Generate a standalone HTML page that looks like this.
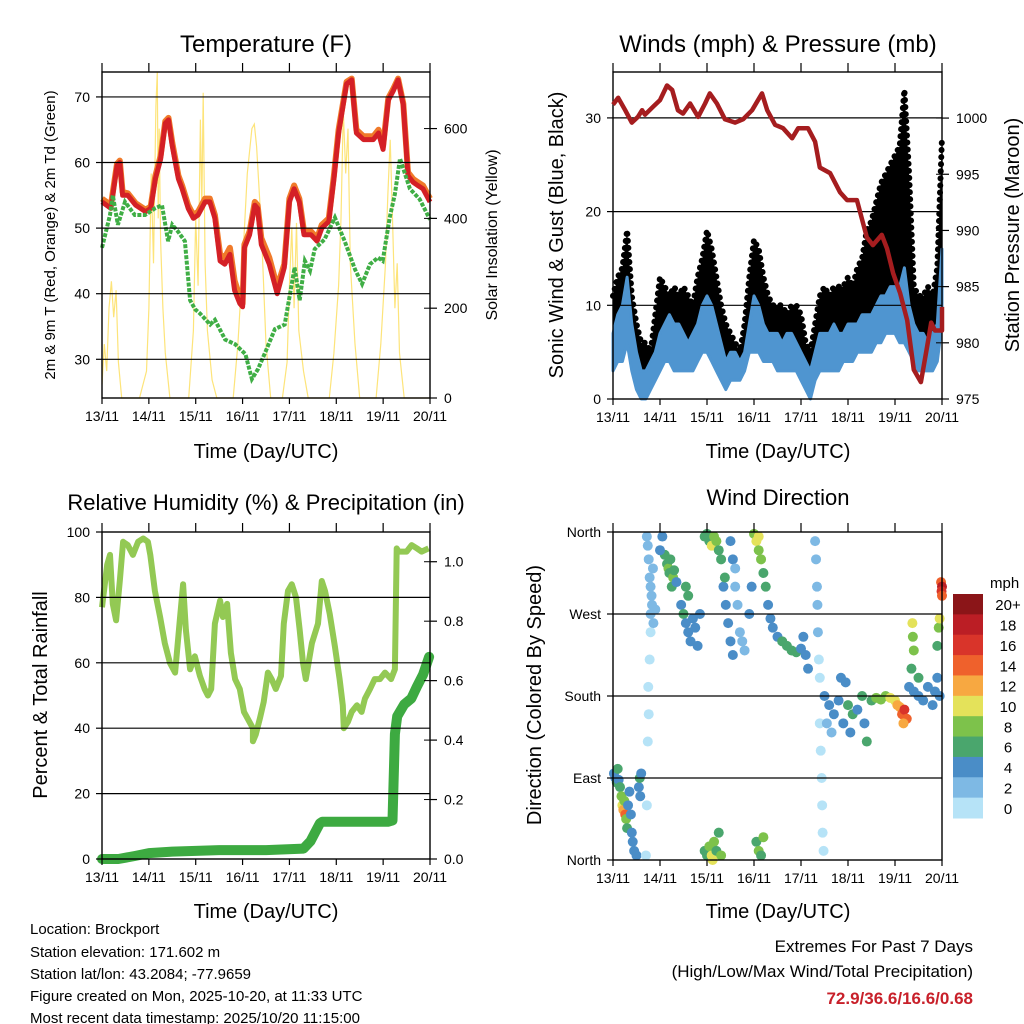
<!DOCTYPE html>
<html><head><meta charset="utf-8"><style>
body{margin:0;background:#fff}
svg{display:block;font-family:"Liberation Sans",Arial,sans-serif}
</style></head><body>
<svg id="svg" width="1024" height="1024" viewBox="0 0 1024 1024" xmlns="http://www.w3.org/2000/svg">
<g id="g"></g>
<g font-size="15" fill="#000">
<text x="30" y="934">Location: Brockport</text>
<text x="30" y="957">Station elevation: 171.602 m</text>
<text x="30" y="979">Station lat/lon: 43.2084; -77.9659</text>
<text x="30" y="1001">Figure created on Mon, 2025-10-20, at 11:33 UTC</text>
<text x="30" y="1023">Most recent data timestamp: 2025/10/20 11:15:00</text>
</g>
<g text-anchor="end">
<text x="973" y="952" font-size="17">Extremes For Past 7 Days</text>
<text x="973" y="977" font-size="17">(High/Low/Max Wind/Total Precipitation)</text>
<text x="973" y="1004" font-size="17" font-weight="bold" fill="#c8202a">72.9/36.6/16.6/0.68</text>
</g>
</svg>
<script>
// ---------- DATA ----------
const dayLabels=["13/11","14/11","15/11","16/11","17/11","18/11","19/11","20/11"];
const tempT=[0,0.19,0.32,0.38,0.44,0.55,0.72,0.93,1.04,1.14,1.25,1.35,1.42,1.5,1.63,1.71,1.84,1.95,2.05,2.2,2.3,2.41,2.52,2.62,2.73,2.83,2.94,3.0,3.04,3.15,3.26,3.32,3.4,3.57,3.74,3.89,4.0,4.1,4.21,4.31,4.46,4.59,4.69,4.84,4.95,5.05,5.22,5.33,5.43,5.58,5.79,5.9,6.0,6.11,6.22,6.32,6.43,6.53,6.64,6.74,6.85,7.0];
const tempRed=[54,53,59.5,60,55,55,53.5,52.5,53,57.5,60.5,66,66.5,62.5,57.5,56,53,51.5,52,54,54,51.5,45,44.5,46,40.5,38.5,38,47,49,53.5,53,47.5,44.5,40,44,54,56,54,49,49,48,50,51,57.5,64.5,72,72.6,64.5,63.5,63.5,64.5,62,69.5,71,72.6,68.8,58,57,56.5,56,54];
const tempOrange=[54.5,53.5,59.8,60.3,55.5,55.3,53.8,52.8,53.3,58,61,66.3,66.8,63,58,56.5,53.5,52,52.5,54.5,54.5,52,46,45.5,47,42,39.5,38.5,47.5,49.5,54,53.5,48.5,45.5,41,44.5,54.5,56.5,54.5,49.5,49.5,48.5,50.5,51.5,58,65,72.3,72.8,65,64,64,65,62.5,69.8,71.3,72.8,69,58.5,57.5,57,56.5,54.5];
const dewT=[0,0.17,0.23,0.34,0.49,0.70,0.92,1.13,1.28,1.41,1.50,1.62,1.77,1.88,1.99,2.09,2.31,2.41,2.63,2.84,3.06,3.20,3.33,3.48,3.69,3.90,4.11,4.22,4.33,4.44,4.54,4.75,4.97,5.18,5.40,5.55,5.72,5.89,5.99,6.14,6.25,6.36,6.57,6.78,7.0];
const dewVal=[47,52,55,50.5,54,52,52,53,53.5,48,50.5,49.5,48,39,37.6,37,35.3,36,33,32.3,30.8,27,28.5,31,34.6,35.3,44,39,45,43.5,46.8,48.3,51.6,48,43.7,41.5,44.5,45.5,45,51.6,55.2,60.6,56,54.4,51.3];
const solarT=[0,0.05,0.1,0.15,0.2,0.25,0.3,0.35,0.42,0.8,0.95,1.0,1.05,1.1,1.15,1.18,1.2,1.22,1.25,1.3,1.35,1.45,1.85,1.95,2.0,2.05,2.1,2.13,2.16,2.2,2.25,2.35,2.45,2.8,2.9,3.0,3.1,3.2,3.25,3.3,3.4,3.5,3.6,3.85,3.95,4.0,4.05,4.1,4.15,4.2,4.3,4.4,4.85,4.95,5.05,5.1,5.15,5.2,5.25,5.3,5.4,5.5,5.85,5.95,6.05,6.1,6.15,6.2,6.25,6.3,6.35,6.45,7.0];
const solarVal=[30,120,60,200,260,180,240,80,0,0,60,200,500,300,650,726,400,600,350,200,100,0,0,150,400,250,620,420,680,300,150,40,0,0,120,300,500,600,610,560,380,120,0,0,80,250,380,200,390,150,60,0,0,100,250,400,640,500,600,300,120,0,0,120,300,450,575,400,200,300,100,0,0];
const presT=[0,0.11,0.26,0.40,0.53,0.62,0.68,0.85,1.0,1.15,1.26,1.38,1.49,1.64,1.81,1.96,2.06,2.21,2.38,2.60,2.77,2.96,3.17,3.28,3.45,3.62,3.81,3.94,4.15,4.30,4.40,4.62,4.83,4.98,5.19,5.40,5.53,5.72,5.83,5.96,6.11,6.26,6.40,6.55,6.68,6.77,6.85,7.0,7.0];
const presVal=[1001.2,1001.8,1000.7,999.6,1000.1,1000.7,1000.3,1001.0,1001.6,1002.9,1002.5,1000.7,1000.4,1001.3,1000.1,1001.3,1002.2,1001.3,999.9,999.6,999.9,1000.7,1002.2,1000.7,999.4,999.1,998.2,999.1,999.1,997.9,995.6,995.1,993.4,992.7,992.7,989.4,988.7,989.6,988.4,986.2,984.4,982.0,977.6,976.5,979.6,981.8,981.1,981.1,983.2];
const windT=[0,0.1,0.2,0.3,0.4,0.5,0.6,0.7,0.8,0.9,1.0,1.1,1.2,1.3,1.4,1.5,1.6,1.7,1.8,1.9,2.0,2.1,2.2,2.3,2.4,2.5,2.6,2.7,2.8,2.9,3.0,3.1,3.2,3.3,3.4,3.5,3.6,3.7,3.8,3.9,4.0,4.1,4.2,4.3,4.4,4.5,4.6,4.7,4.8,4.9,5.0,5.1,5.2,5.3,5.4,5.5,5.6,5.7,5.8,5.9,6.0,6.1,6.2,6.3,6.4,6.5,6.6,6.7,6.8,6.9,7.0];
const windHi=[7,9,10,13,8,5,3,3,4,5,7,8,9,8,8,7,6,7,8,10,11,10,8,6,4,5,5,4,5,8,11,10,8,7,7,7,6,7,7,6,5,4,3,5,7,7,7,8,7,7,8,8,8,9,9,9,10,11,11,12,12,12,14,10,8,7,7,6,7,8,16];
const windLo=[3,4,4,6,3,1,0,0,1,2,3,4,4,3,3,3,3,3,4,5,5,4,3,2,1,2,2,2,3,5,5,5,4,4,4,3,3,3,3,3,2,1,0,2,3,3,3,3,3,4,4,4,5,5,5,5,6,6,7,7,7,6,6,5,4,3,3,3,3,4,8];
const gustHi=[11,13,14,18,11,8,6,6,5,9,13,12,11,12,11,12,11,10,13,15,18,16,13,10,8,7,6,5,8,13,17,16,13,11,10,10,10,9,10,10,9,6,5,8,11,12,11,12,12,12,13,12,14,15,18,19,21,23,24,25,26,27,33,24,12,11,11,12,11,14,28];
const rhT=[0,0.06,0.11,0.17,0.23,0.30,0.38,0.45,0.55,0.66,0.77,0.88,0.98,1.03,1.13,1.24,1.34,1.45,1.56,1.66,1.73,1.79,1.88,1.98,2.09,2.19,2.26,2.33,2.41,2.52,2.58,2.67,2.75,2.84,2.94,3.03,3.22,3.22,3.28,3.37,3.45,3.54,3.62,3.71,3.82,3.88,3.97,4.05,4.14,4.22,4.29,4.35,4.48,4.61,4.69,4.76,4.86,4.97,5.07,5.14,5.16,5.25,5.33,5.44,5.54,5.61,5.72,5.82,5.93,6.04,6.17,6.25,6.29,6.33,6.40,6.50,6.61,6.72,6.82,6.97];
const rhVal=[77,84,90,93,78,73,85,97,96,93,97,98,97,93,82,74,66,60,57,73,84,70,58,62,56,52,50,52,72,79,74,78,63,55,52,45,40,36,38,43,48,57,55,52,56,72,82,84,80,70,60,55,66,72,85,82,75,65,55,47,40,42,45,47,45,49,52,55,55,57,55,58,95,94,94,94,96,95,94,95];
const rainT=[0,0.35,0.7,1.0,1.5,2.5,3.5,4.3,4.45,4.55,4.65,4.7,6.1,6.2,6.22,6.25,6.3,6.45,6.6,6.72,6.85,6.98];
const rainVal=[0,0,0.01,0.02,0.025,0.03,0.03,0.035,0.06,0.09,0.12,0.125,0.125,0.13,0.25,0.42,0.48,0.52,0.54,0.58,0.62,0.68];
const dirT=[0.02,0.05,0.08,0.1,0.12,0.15,0.18,0.2,0.22,0.24,0.26,0.28,0.3,0.32,0.35,0.38,0.4,0.42,0.45,0.5,0.55,0.57,0.6,0.58,
0.7,0.72,0.74,0.76,0.75,0.78,0.8,0.8,0.82,0.78,0.76,0.74,0.72,0.8,0.85,0.83,0.86,0.9,
1.1,1.15,1.18,1.2,1.22,1.25,1.28,1.3,1.35,1.0,1.05,
1.45,1.5,1.55,1.6,1.65,1.7,1.75,1.8,1.85,1.6,1.55,
1.95,2.0,2.05,2.1,2.15,2.2,2.25,2.3,2.35,2.4,2.38,
1.95,2.0,2.05,2.1,2.15,2.2,2.25,2.3,2.12,
2.5,2.55,2.6,2.65,2.7,2.75,2.8,2.6,2.45,2.5,2.55,2.9,2.95,
3.0,3.05,3.1,3.15,3.2,3.25,3.3,3.35,3.1,
3.05,3.1,3.15,3.2,
3.4,3.5,3.6,3.7,3.8,3.9,4.0,4.05,4.1,4.15,
4.3,4.32,4.34,4.35,4.36,4.38,4.4,4.4,4.42,4.44,4.45,4.46,4.48,
4.5,4.6,4.7,4.8,4.9,5.0,5.05,5.1,5.2,5.3,5.35,5.4,5.5,4.55,4.65,4.85,4.95,
5.6,5.7,5.8,5.9,6.0,6.05,6.1,6.15,6.2,6.25,6.18,
6.3,6.4,6.5,6.6,6.7,6.8,6.85,6.9,6.95,6.35,6.4,6.38,6.37,6.5,6.9,6.93,6.95,
6.98,7.0,6.99,7.0];
const dirDeg=[95,90,85,100,88,80,70,60,55,65,50,45,35,60,75,50,30,20,10,5,80,90,95,70,
5,60,130,160,190,220,250,270,290,310,330,345,355,300,320,280,260,275,
335,325,320,315,330,300,310,318,305,340,355,
280,270,260,250,240,265,255,235,270,290,300,
355,358,350,345,355,350,340,330,300,280,310,
10,5,15,5,20,10,30,5,0,
350,330,300,280,250,240,230,320,260,240,225,270,300,
358,350,340,330,315,300,280,265,355,
20,10,5,25,
255,245,240,235,230,228,232,245,225,210,
350,330,300,280,250,220,200,150,120,90,60,30,10,
180,170,160,175,150,170,140,160,165,180,150,130,175,150,140,200,195,
178,176,180,178,175,170,168,160,165,155,150,
190,185,180,175,190,170,185,200,180,210,230,245,260,200,235,255,265,
305,300,295,290];
const dirSpd=[4,5,6,6,5,7,8,10,12,9,14,8,6,5,4,4,4,4,4,4,5,6,4,4,
1,1,1,0,1,1,1,2,2,2,2,2,2,2,2,2,2,2,
6,7,8,7,6,7,8,6,5,4,5,
5,6,5,4,4,4,5,4,4,7,7,
6,7,6,10,9,8,6,6,5,5,6,
6,7,8,10,9,6,7,8,10,
4,4,2,2,2,2,3,3,4,4,4,4,4,
9,10,8,8,7,6,5,5,10,
7,9,6,8,
4,5,6,6,6,6,5,4,4,4,
2,2,2,2,2,1,1,1,1,1,1,1,1,
4,4,4,5,4,6,5,6,5,6,5,6,7,3,3,4,4,
8,8,9,10,11,12,13,14,16,14,12,
4,5,4,4,4,4,4,4,4,6,8,8,10,6,6,8,10,
14,18,16,14];
const speedLegend=["20+","18","16","14","12","10","8","6","4","2","0"];
const speedColors=["#8b1518","#bb1e25","#d9342a","#ef612c","#f7a841","#e4e25a","#7dc24b","#4aa66d","#4a8dc7","#7eb9e4","#b6e3f7"];

// ---------- HELPERS ----------
const NS="http://www.w3.org/2000/svg";
const root=document.getElementById('g');
function mk(tag,attrs,parent){const e=document.createElementNS(NS,tag);for(const k in attrs)e.setAttribute(k,attrs[k]);(parent||root).appendChild(e);return e;}
function txt(s,attrs,parent){const e=mk('text',attrs,parent);e.textContent=s;return e;}
function scale(d0,d1,r0,r1){return v=>r0+(v-d0)/(d1-d0)*(r1-r0);}
function pathOf(xs,ys,fx,fy){return xs.map((t,i)=>(i?'L':'M')+fx(t).toFixed(1)+','+fy(ys[i]).toFixed(1)).join('');}
function bandOf(xs,lo,hi,fx,fy){let d=xs.map((t,i)=>(i?'L':'M')+fx(t).toFixed(1)+','+fy(hi[i]).toFixed(1)).join('');for(let i=xs.length-1;i>=0;i--)d+='L'+fx(xs[i]).toFixed(1)+','+fy(lo[i]).toFixed(1);return d+'Z';}

function frame(P,name,leftTicks,leftLabels,rightTicks,rightLabels,fyL,fyR,grid){
  const g=mk('g',{});
  
  
  if(grid) leftTicks.forEach(v=>{const y=fyL(v);if(y>P.y0+1&&y<P.y1-1)mk('line',{x1:P.x0,x2:P.x1,y1:y,y2:y,stroke:'#000','stroke-width':1.2},g);});
  const fx=scale(0,7,P.x0,P.x1);
  dayLabels.forEach((l,i)=>{const x=fx(i);
    mk('line',{x1:x,x2:x,y1:P.y1,y2:P.y1+6,stroke:'#000','stroke-width':1.2},g);
    mk('line',{x1:x,x2:x,y1:P.y0,y2:P.y0-9,stroke:'#000','stroke-width':1.2},g);
    const t=txt(l,{x:x,y:P.y1+23,'font-size':14,'text-anchor':'middle'},g);
    });
  leftTicks.forEach((v,i)=>{const y=fyL(v);
    mk('line',{x1:P.x0-6,x2:P.x0,y1:y,y2:y,stroke:'#000','stroke-width':1.2},g);
    const t=txt(leftLabels[i],{x:P.x0-12,y:y+5,'font-size':14,'text-anchor':'end'},g);
    });
  if(rightTicks) rightTicks.forEach((v,i)=>{const y=fyR(v);
    mk('line',{x1:P.x1,x2:P.x1+7,y1:y,y2:y,stroke:'#000','stroke-width':1.2},g);
    mk('line',{x1:P.x1-6,x2:P.x1,y1:y,y2:y,stroke:'#000','stroke-width':1},g);
    const t=txt(rightLabels[i],{x:P.x1+14,y:y+5,'font-size':14},g);
    });
  mk('rect',{x:P.x0,y:P.y0,width:P.x1-P.x0,height:P.y1-P.y0,fill:'none',stroke:'#000','stroke-width':1.4},g);
  return g;
}
function label(s,x,y,size,name,rot,anchor){const t=txt(s,{x:x,y:y,'font-size':size,'text-anchor':anchor||'middle',transform:rot?`rotate(-90 ${x} ${y})`:''});return t;}

// ---------- PANEL 1: TEMPERATURE ----------
{
const P={x0:102,x1:430,y0:72,y1:398};
const fx=scale(0,7,P.x0,P.x1), fy=scale(24.1,73.8,P.y1,P.y0), fs=scale(0,726,P.y1,P.y0);
const sol=mk('path',{d:pathOf(solarT,solarVal,fx,fs),fill:'none',stroke:'#fde47a','stroke-width':1.2});

const o=mk('path',{d:pathOf(tempT,tempOrange,fx,fy),fill:'none',stroke:'#f07a2a','stroke-width':6,'stroke-linejoin':'round'});

const r=mk('path',{d:pathOf(tempT,tempRed,fx,fy),fill:'none',stroke:'#d42026','stroke-width':5,'stroke-linejoin':'round'});

const d=mk('path',{d:pathOf(dewT,dewVal,fx,fy),fill:'none',stroke:'#3fae45','stroke-width':4,'stroke-dasharray':'4 1.5'});

frame(P,'temperature',[30,40,50,60,70],["30","40","50","60","70"],[0,200,400,600],["0","200","400","600"],fy,fs,true);
label('Temperature (F)',266,52,24,'temperature-title');
label('Time (Day/UTC)',266,458,20,'temperature-x-title');
label('2m & 9m T (Red, Orange) & 2m Td (Green)',55,235,15,'temperature-y-title',true);
label('Solar Insolation (Yellow)',497,235,16,'solar-y-title',true);
}
// ---------- PANEL 2: WINDS ----------
{
const P={x0:613,x1:942,y0:72,y1:399};
const fx=scale(0,7,P.x0,P.x1), fy=scale(0,34.9,P.y1,P.y0), fp=scale(975,1004.1,P.y1,P.y0);
const gb=mk('path',{d:bandOf(windT,windLo,gustHi,fx,fy),fill:'#000',stroke:'none'});

const gd=mk('path',{d:pathOf(windT,gustHi,fx,fy),fill:'none',stroke:'#000','stroke-width':6,'stroke-linecap':'round','stroke-dasharray':'0.1 7'});

const wb=mk('path',{d:bandOf(windT,windLo,windHi,fx,fy),fill:'#4f95d0',stroke:'#4f95d0','stroke-width':3,'stroke-linejoin':'round'});

frame(P,'winds',[0,10,20,30],["0","10","20","30"],[975,980,985,990,995,1000],["975","980","985","990","995","1000"],fy,fp,true);
const pr=mk('path',{d:pathOf(presT,presVal,fx,fp),fill:'none',stroke:'#a51d1f','stroke-width':4.5,'stroke-linejoin':'round'});

label('Winds (mph) & Pressure (mb)',778,52,24,'winds-title');
label('Time (Day/UTC)',778,458,20,'winds-x-title');
label('Sonic Wind & Gust (Blue, Black)',563,235,20,'winds-y-title',true);
label('Station Pressure (Maroon)',1019,235,20,'pressure-y-title',true);
}
// ---------- PANEL 3: RH & PRECIP ----------
{
const P={x0:102,x1:430,y0:532,y1:859};
const fx=scale(0,7,P.x0,P.x1), fy=scale(0,100,P.y1,P.y0), fr=scale(0,1.1,P.y1,P.y0);
const rh=mk('path',{d:pathOf(rhT,rhVal,fx,fy),fill:'none',stroke:'#93c954','stroke-width':6,'stroke-linejoin':'round'});

const rn=mk('path',{d:pathOf(rainT,rainVal,fx,fr),fill:'none',stroke:'#3daa41','stroke-width':10,'stroke-linejoin':'round','stroke-linecap':'round'});

frame(P,'humidity',[0,20,40,60,80,100],["0","20","40","60","80","100"],[0,0.2,0.4,0.6,0.8,1.0],["0.0","0.2","0.4","0.6","0.8","1.0"],fy,fr,true);
label('Relative Humidity (%) & Precipitation (in)',266,510,22,'humidity-title');
label('Time (Day/UTC)',266,918,20,'humidity-x-title');
label('Percent & Total Rainfall',47,695,20,'humidity-y-title',true);
}
// ---------- PANEL 4: WIND DIRECTION ----------
{
const P={x0:613,x1:942,y0:532,y1:860};
const fx=scale(0,7,P.x0,P.x1), fy=scale(0,360,P.y1,P.y0);
const gp=mk('g',{});

dirT.forEach((t,i)=>{const s=dirSpd[i];const bin=Math.min(10,Math.floor(s/2));
  const c=mk('circle',{cx:fx(t),cy:fy(dirDeg[i]),r:5,fill:speedColors[10-bin]},gp);
  });
frame(P,'direction',[0,90,180,270,360],["North","East","South","West","North"],null,null,fy,null,true);
label('Wind Direction',778,505,22,'direction-title');
label('Time (Day/UTC)',778,918,20,'direction-x-title');
label('Direction (Colored By Speed)',541,695,20,'direction-y-title',true);
const lg=mk('g',{});

const bh=224/speedLegend.length;
speedLegend.forEach((l,i)=>{const y=594+i*bh;
  const b=mk('rect',{x:953,y:y,width:30,height:bh+0.5,fill:speedColors[i]},lg);
  
  const t=txt(l,{x:1008,y:y+bh/2+6,'font-size':15,'text-anchor':'middle'},lg);
  });
const u=txt('mph',{x:990,y:588,'font-size':15},lg);

}
</script>
</body></html>
